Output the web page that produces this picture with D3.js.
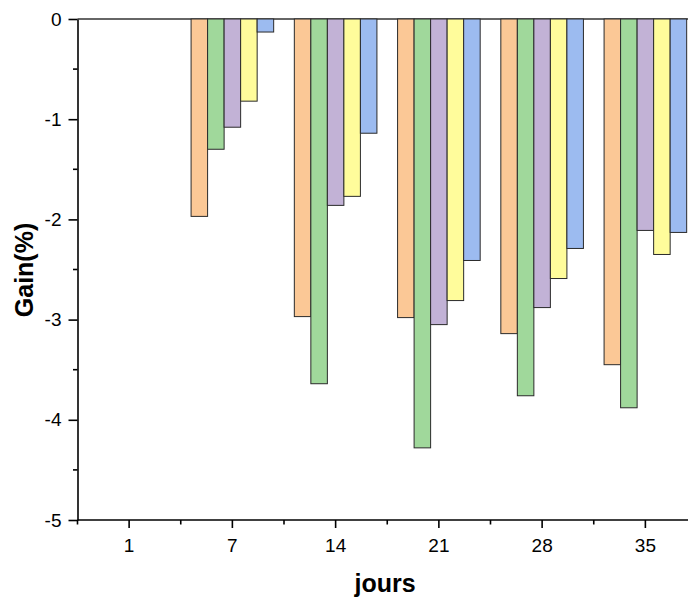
<!DOCTYPE html>
<html>
<head>
<meta charset="utf-8">
<script src="https://cdn.jsdelivr.net/npm/d3@7"></script>
<style>
  body { margin: 0; background: #fff; }
  svg { display: block; font-family: "Liberation Sans", Arial, sans-serif; }
  .axis path, .axis line { stroke: #000; stroke-width: 1.6px; }
  .axis text { font-size: 19px; fill: #000; }
  .bars rect { stroke: #2a2a2a; stroke-width: 1px; }
</style>
</head>
<body>
<svg id="chart"></svg>
<script>
// ========== data
const categories = ['1', '7', '14', '21', '28', '35'];
const seriesNames = ['s1', 's2', 's3', 's4', 's5'];
const s1 = [0, -1.97, -2.97, -2.98, -3.14, -3.45];
const s2 = [0, -1.30, -3.64, -4.28, -3.76, -3.88];
const s3 = [0, -1.08, -1.86, -3.05, -2.88, -2.11];
const s4 = [0, -0.82, -1.77, -2.81, -2.59, -2.35];
const s5 = [0, -0.13, -1.14, -2.41, -2.29, -2.13];
const colors = ['#fbc896', '#a0d89b', '#c2b2d6', '#fffc9b', '#9cbbf0'];
const yTicks = [0, -1, -2, -3, -4, -5];
const yMinor = [-0.5, -1.5, -2.5, -3.5, -4.5];

const values = [s1, s2, s3, s4, s5];

// ========== layout
const width = 688, height = 599;
const svg = d3.select('#chart')
  .attr('width', width)
  .attr('height', height);

const x = d3.scaleBand()
  .domain(categories)
  .range([77.5, 697])
  .paddingInner(0.2)
  .paddingOuter(0.1);

const xs = d3.scaleBand()
  .domain(seriesNames)
  .range([0, x.bandwidth()]);

const y = d3.scaleLinear()
  .domain([-5, 0])
  .range([520, 19]);

// zero line along the top
svg.append('line')
  .attr('x1', x.range()[0]).attr('x2', width)
  .attr('y1', y(0)).attr('y2', y(0))
  .attr('stroke', '#333').attr('stroke-width', 1.3);

// bars
const rows = [];
categories.forEach((c, i) => {
  seriesNames.forEach((s, j) => {
    rows.push({cat: c, ser: s, v: values[j][i], color: colors[j]});
  });
});

svg.append('g')
  .attr('class', 'bars')
  .selectAll('rect')
  .data(rows.filter(d => d.v !== 0))
  .enter().append('rect')
  .attr('x', d => x(d.cat) + xs(d.ser))
  .attr('y', y(0))
  .attr('width', xs.bandwidth())
  .attr('height', d => y(d.v) - y(0))
  .attr('fill', d => d.color);

// x axis
const gx = svg.append('g')
  .attr('class', 'axis')
  .attr('transform', `translate(0,${y(-5)})`)
  .call(d3.axisBottom(x).tickSize(8).tickSizeOuter(0).tickPadding(11));
gx.select('.domain').attr('d', `M${x.range()[0]},0H${width + 10}`);

// minor x ticks at category boundaries
const bounds = d3.range(categories.length + 1).map(i => x.range()[0] + i * x.step());
gx.selectAll('.minor')
  .data(bounds)
  .enter().append('line')
  .attr('class', 'minor')
  .attr('x1', d => d).attr('x2', d => d)
  .attr('y1', 0).attr('y2', 4.5);

// y axis
const gy = svg.append('g')
  .attr('class', 'axis')
  .attr('transform', `translate(${x.range()[0]},0)`)
  .call(d3.axisLeft(y).tickValues(yTicks).tickFormat(d => String(d))
    .tickSize(9).tickSizeOuter(0).tickPadding(7));

gy.selectAll('.minor')
  .data(yMinor)
  .enter().append('line')
  .attr('class', 'minor')
  .attr('x1', -4.5).attr('x2', 0)
  .attr('y1', d => y(d)).attr('y2', d => y(d));

// titles
svg.append('text')
  .attr('x', 385).attr('y', 592)
  .attr('text-anchor', 'middle')
  .style('font-size', '25px').style('font-weight', 'bold')
  .text('jours');

svg.append('text')
  .attr('transform', 'translate(33,270) rotate(-90)')
  .attr('text-anchor', 'middle')
  .style('font-size', '25px').style('font-weight', 'bold')
  .text('Gain(%)');
</script>
</body>
</html>
